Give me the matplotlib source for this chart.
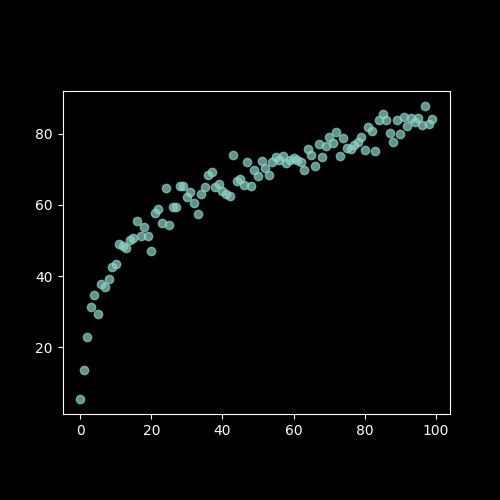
import numpy as np
import matplotlib
matplotlib.use('Agg')
from matplotlib import pyplot as plt

# values
x = np.arange(100)
y = [5.4, 13.5, 22.8, 31.3, 34.6, 29.3, 37.7, 36.9, 39.2, 42.5,
     43.4, 49.0, 48.5, 47.9, 50.1, 50.7, 55.5, 51.3, 53.8, 51.3,
     47.0, 57.7, 58.9, 54.9, 64.8, 54.4, 59.4, 59.4, 65.4, 65.4,
     62.3, 63.7, 60.6, 57.5, 63.1, 65.1, 68.5, 69.3, 65.1, 65.9,
     63.9, 63.1, 62.5, 74.1, 66.8, 67.3, 65.6, 72.1, 65.4, 69.9,
     68.2, 72.4, 70.4, 68.5, 72.1, 73.5, 72.7, 73.8, 71.8, 72.7,
     73.2, 72.7, 72.1, 69.9, 75.8, 74.1, 71.0, 77.2, 73.5, 76.6,
     79.2, 77.5, 80.6, 73.8, 78.9, 76.1, 75.8, 76.9, 77.7, 79.2,
     75.5, 82.0, 80.8, 75.2, 83.9, 85.6, 83.9, 80.3, 77.7, 83.9,
     80.0, 84.8, 82.3, 84.5, 83.4, 84.5, 82.5, 87.9, 82.8, 84.2]

plt.style.use('dark_background')
fig, ax = plt.subplots(figsize=(5, 5), dpi=100)
ax.scatter(x, y, alpha=0.7)
ax.set_aspect('equal')
plt.savefig('out.png')
